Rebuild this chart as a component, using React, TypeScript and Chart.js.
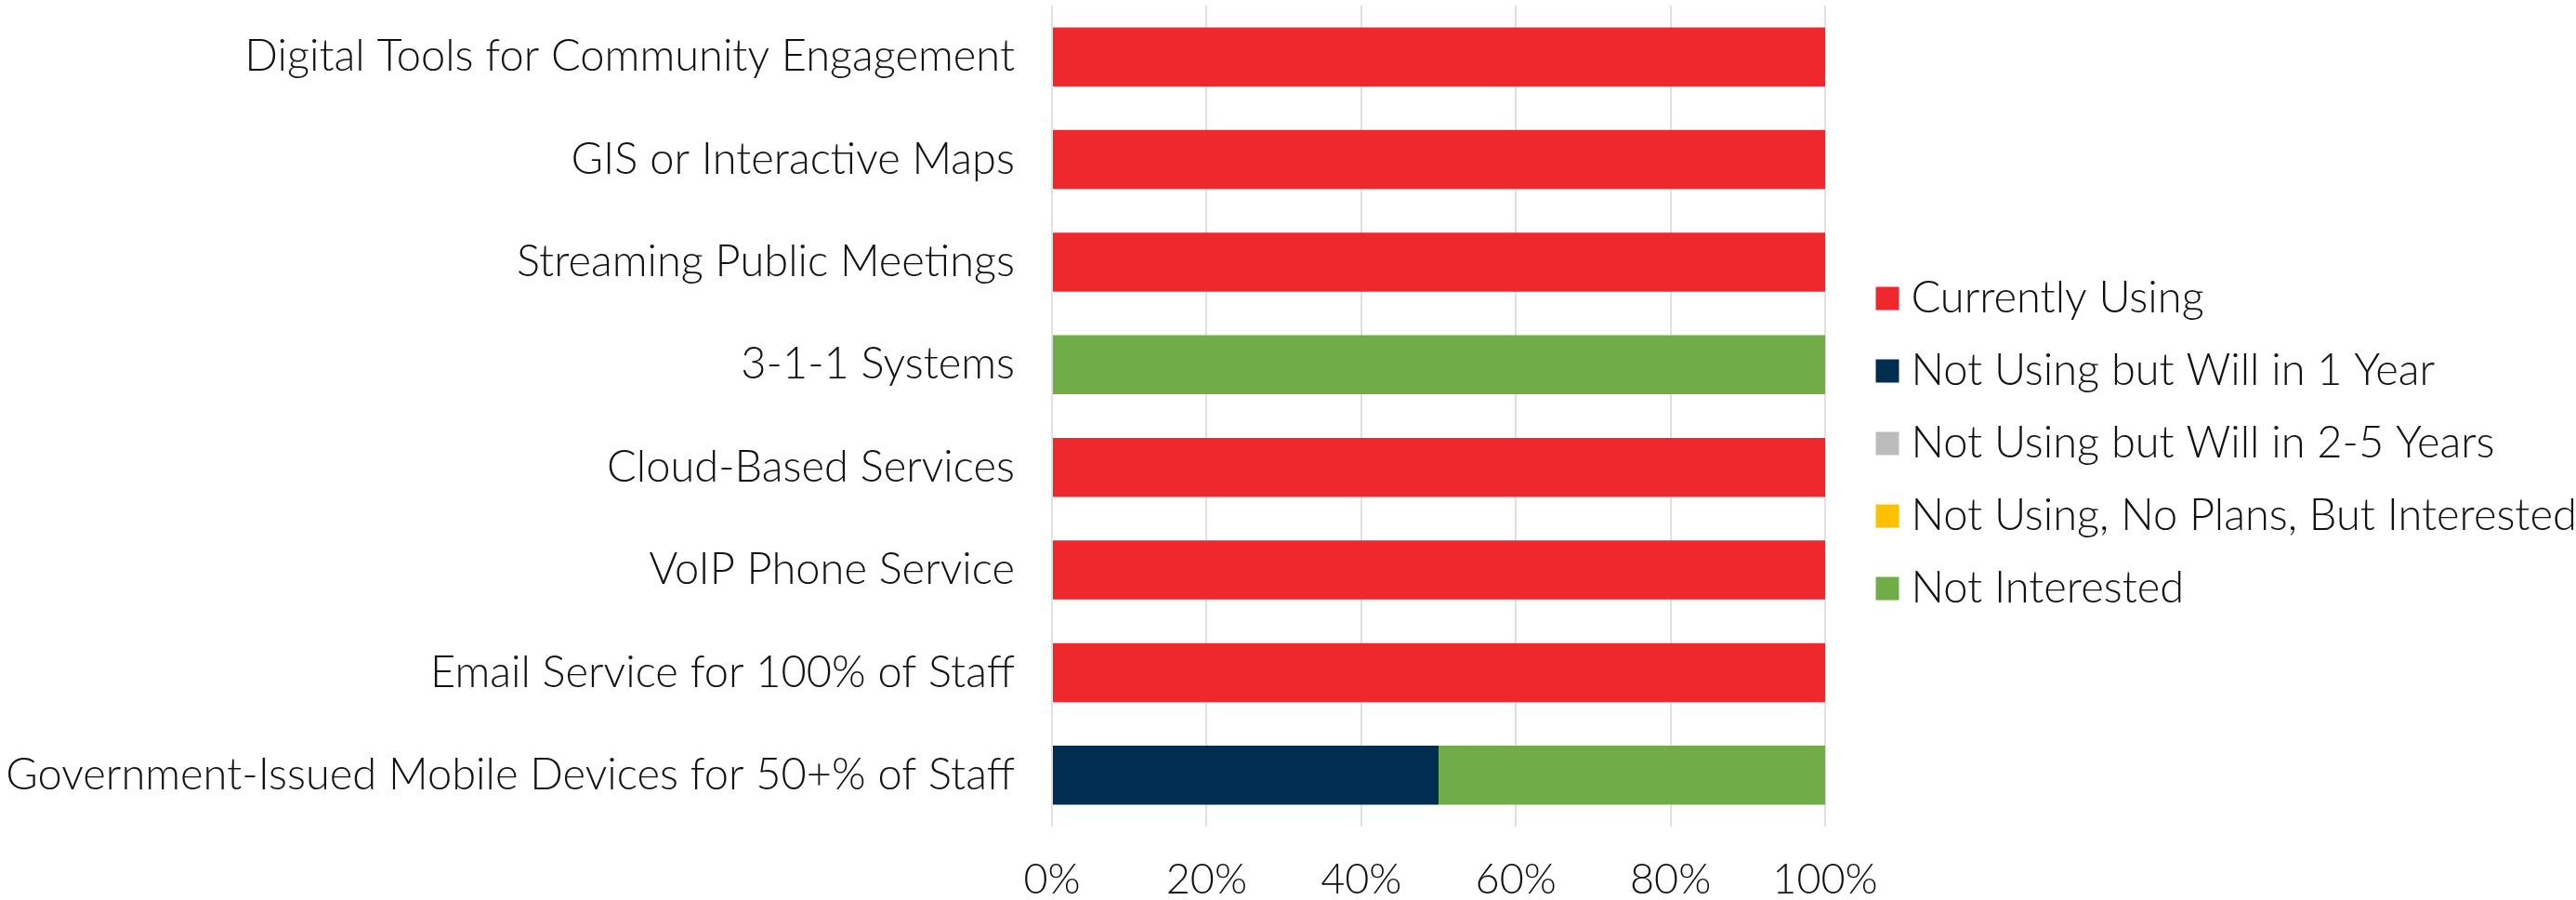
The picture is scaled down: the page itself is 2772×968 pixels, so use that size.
import React, { useEffect, useRef } from 'react';
import { Chart, registerables } from 'chart.js';

Chart.register(...registerables);

const categories = [
  'Digital Tools for Community Engagement',
  'GIS or Interactive Maps',
  'Streaming Public Meetings',
  '3-1-1 Systems',
  'Cloud-Based Services',
  'VoIP Phone Service',
  'Email Service for 100% of Staff',
  'Government-Issued Mobile Devices for 50+% of Staff',
];

const seriesNames = [
  'Currently Using',
  'Not Using but Will in 1 Year',
  'Not Using but Will in 2-5 Years',
  'Not Using, No Plans, But Interested',
  'Not Interested',
];

const currentlyUsing = [100, 100, 100, 0, 100, 100, 100, 0];
const willIn1Year = [0, 0, 0, 0, 0, 0, 0, 50];
const willIn2to5Years = [0, 0, 0, 0, 0, 0, 0, 0];
const noPlansInterested = [0, 0, 0, 0, 0, 0, 0, 0];
const notInterested = [0, 0, 0, 100, 0, 0, 0, 50];

const seriesValues = [currentlyUsing, willIn1Year, willIn2to5Years, noPlansInterested, notInterested];
const seriesColors = ['#EE282D', '#012D50', '#BDBCBD', '#FFC000', '#70AD47'];

const xTickValues = [0, 20, 40, 60, 80, 100];
const xTickSuffix = '%';

const FONT = 'Lato, "Noto Sans", sans-serif';
const LEGEND_FONT_SIZE = 47;
const LEGEND_PADDING = 31;

const legendShift = {
  id: 'legendShift',
  afterLayout(chart: any) {
    const l = chart.legend;
    if (!l) return;
    const dx = 34;
    const dy = -10;
    l.left += dx;
    l.right += dx;
    l.top += dy;
    l.bottom += dy;
  },
};

export default function App() {
  const ref = useRef<HTMLCanvasElement>(null);

  useEffect(() => {
    if (!ref.current) return;
    const chart = new Chart(ref.current, {
      type: 'bar',
      data: {
        labels: categories,
        datasets: seriesNames.map((name, i) => ({
          label: name,
          data: seriesValues[i],
          backgroundColor: seriesColors[i],
          borderWidth: 0,
          barPercentage: 0.575,
          categoryPercentage: 1,
        })),
      },
      options: {
        indexAxis: 'y',
        responsive: false,
        animation: false,
        devicePixelRatio: 1,
        layout: { padding: { top: 6, left: 0, right: 0, bottom: 0 } },
        scales: {
          x: {
            type: 'linear',
            stacked: true,
            min: 0,
            max: 100,
            afterBuildTicks: (s: any) => {
              s.ticks = xTickValues.map((v) => ({ value: v }));
            },
            ticks: {
              callback: (v: any) => v + xTickSuffix,
              color: '#111',
              font: { family: FONT, size: 45, weight: '300' },
              padding: 30,
            },
            grid: { color: '#e0e0e0', lineWidth: 2, drawTicks: false },
            border: { display: false },
            afterFit: (s: any) => {
              s.height = 79;
              s.paddingRight = 808;
            },
          },
          y: {
            type: 'category',
            stacked: true,
            ticks: {
              color: '#111',
              font: { family: FONT, size: 47, weight: '300' },
              padding: 40,
            },
            grid: { display: false, drawTicks: false },
            border: { display: false },
            afterFit: (s: any) => {
              s.width = 1132;
              s.paddingTop = 0;
              s.paddingBottom = 0;
            },
          },
        },
        plugins: {
          legend: {
            position: 'right',
            maxWidth: 808,
            labels: {
              usePointStyle: true,
              pointStyle: 'rect',
              boxWidth: 4,
              boxHeight: 25,
              padding: LEGEND_PADDING,
              color: '#111',
              font: { family: FONT, size: LEGEND_FONT_SIZE, weight: '300' },
            },
          },
          tooltip: { enabled: false },
        },
      },
      plugins: [legendShift],
    } as any);
    return () => chart.destroy();
  }, []);

  return (
    <div
      style={{
        position: 'absolute',
        left: 0,
        top: 0,
        width: 2772,
        height: 968,
        overflow: 'hidden',
        background: '#fff',
      }}
    >
      <canvas ref={ref} width={2772} height={968} style={{ display: 'block', width: 2772, height: 968 }} />
    </div>
  );
}
